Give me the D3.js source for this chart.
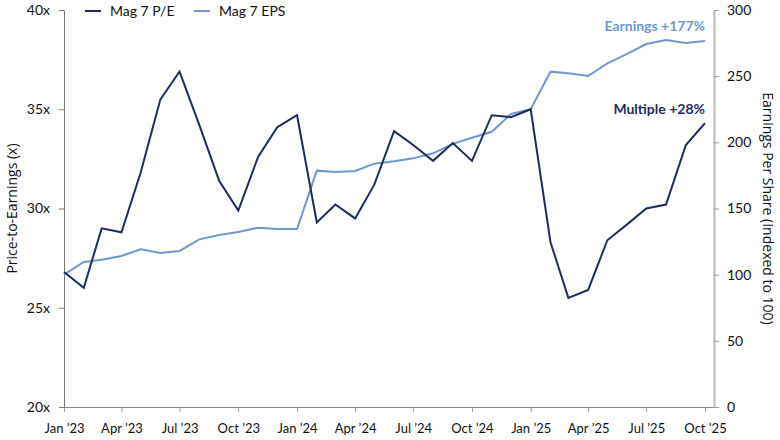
<!DOCTYPE html>
<html lang="en">
<head>
    <meta charset="UTF-8">
    <title>Mag 7 P/E vs EPS</title>
    <script src="https://cdnjs.cloudflare.com/ajax/libs/d3/7.8.5/d3.min.js"></script>
    <style>
        body { margin: 0; background: #fff; font-family: Lato, "Open Sans", sans-serif; }
        svg text { fill: #111; }
    </style>
</head>
<body>
    <div id="chart"></div>
    <script>
        // Monthly data, Jan 2023 .. Oct 2025
        const months = d3.range(34).map(i => new Date(2023, i, 1));
        const peValues = [
            26.8, 26.0, 29.0, 28.8, 31.8, 35.5, 36.9, 34.2, 31.4, 29.9, 32.6, 34.1,
            34.7, 29.3, 30.2, 29.5, 31.2, 33.9, 33.2, 32.4, 33.3, 32.4, 34.7, 34.6,
            35.0, 28.3, 25.5, 25.9, 28.4, 29.2, 30.0, 30.2, 33.2, 34.3
        ];
        const epsValues = [
            100, 109.6, 111.3, 114.1, 119.2, 116.4, 117.9, 126.7, 130, 132.2, 135.5, 134.5,
            134.5, 178.6, 177.6, 178.3, 183.9, 185.7, 187.9, 191.7, 198.8, 203.5, 208, 221.4,
            225, 253.4, 252.2, 250.1, 259.7, 266.8, 274.3, 277.3, 275.1, 276.5
        ];
        const leftTicks = [20, 25, 30, 35, 40];
        const rightTicks = [0, 50, 100, 150, 200, 250, 300];
        const xTickDates = d3.range(0, 34, 3).map(i => new Date(2023, i, 1));

        const width = 780, height = 440;
        const margin = { top: 10, right: 66, bottom: 33, left: 64 };
        const navy = "#1c2d5e", lightBlue = "#6e98cf";

        const svg = d3.select("#chart").append("svg")
            .attr("width", width).attr("height", height);

        const x = d3.scaleTime()
            .domain([months[0], months[months.length - 1]])
            .range([margin.left, 705]);
        const yL = d3.scaleLinear().domain([20, 40]).range([height - margin.bottom, margin.top]);
        const yR = d3.scaleLinear().domain([0, 300]).range([height - margin.bottom, margin.top]);
        const axisRightX = width - margin.right;

        const fmtMonth = d => d3.timeFormat("%b")(d) + " \u2019" + d3.timeFormat("%y")(d);

        // bottom axis
        const gx = svg.append("g")
            .attr("transform", `translate(0,${height - margin.bottom})`)
            .call(d3.axisBottom(x).tickValues(xTickDates).tickFormat(fmtMonth).tickSize(5).tickSizeOuter(0));
        gx.select(".domain").attr("stroke", "#888").attr("d", `M${margin.left},0.5H${axisRightX}`);
        gx.selectAll(".tick line").attr("stroke", "#999");
        gx.selectAll("text").attr("font-size", 13).attr("dy", "1.4em").attr("font-family", "Lato, sans-serif");

        // left axis
        const gl = svg.append("g")
            .attr("transform", `translate(${margin.left},0)`)
            .call(d3.axisLeft(yL).tickValues(leftTicks).tickFormat(d => d + "x").tickSize(5).tickSizeOuter(0));
        gl.select(".domain").attr("stroke", "#777");
        gl.selectAll(".tick line").attr("stroke", "#777");
        gl.selectAll("text").attr("font-size", 14).attr("x", -14).attr("font-family", "Lato, sans-serif");

        // right axis
        const gr = svg.append("g")
            .attr("transform", `translate(${axisRightX},0)`)
            .call(d3.axisRight(yR).tickValues(rightTicks).tickSize(5).tickSizeOuter(0));
        gr.select(".domain").attr("stroke", "#bbb").attr("stroke-width", 2);
        gr.selectAll(".tick line").attr("stroke", "#999");
        gr.selectAll("text").attr("font-size", 14).attr("x", 13).attr("font-family", "Lato, sans-serif");

        // axis titles
        const midY = (margin.top + height - margin.bottom) / 2;
        svg.append("text")
            .attr("transform", `translate(17,${midY}) rotate(-90)`)
            .attr("text-anchor", "middle")
            .attr("font-size", 14)
            .attr("font-family", "'Open Sans', sans-serif")
            .text("Price-to-Earnings (x)");
        svg.append("text")
            .attr("transform", `translate(763,${midY}) rotate(90)`)
            .attr("text-anchor", "middle")
            .attr("font-size", 14)
            .attr("font-family", "'Open Sans', sans-serif")
            .text("Earnings Per Share (Indexed to 100)");

        // lines
        const peLine = d3.line().x((d, i) => x(months[i])).y(d => yL(d));
        const epsLine = d3.line().x((d, i) => x(months[i])).y(d => yR(d));

        svg.append("path").datum(epsValues)
            .attr("fill", "none").attr("stroke", lightBlue).attr("stroke-width", 2)
            .attr("d", epsLine);
        svg.append("path").datum(peValues)
            .attr("fill", "none").attr("stroke", navy).attr("stroke-width", 2)
            .attr("d", peLine);

        // annotations
        svg.append("text")
            .attr("x", 705).attr("y", 31)
            .attr("text-anchor", "end")
            .attr("font-size", 14).attr("font-weight", "bold")
            .style("fill", lightBlue)
            .text("Earnings +177%");
        svg.append("text")
            .attr("x", 705).attr("y", 114)
            .attr("text-anchor", "end")
            .attr("font-size", 14).attr("font-weight", "bold")
            .style("fill", navy)
            .text("Multiple +28%");

        // legend
        const legend = [
            { label: "Mag 7 P/E", color: navy, x: 85 },
            { label: "Mag 7 EPS", color: lightBlue, x: 194 }
        ];
        const lg = svg.selectAll(".legend").data(legend).enter().append("g")
            .attr("class", "legend")
            .attr("transform", d => `translate(${d.x},11)`);
        lg.append("line").attr("x1", 0).attr("x2", 16).attr("y1", 0).attr("y2", 0)
            .attr("stroke", d => d.color).attr("stroke-width", 2);
        lg.append("text").attr("x", 25).attr("dy", "0.35em")
            .attr("font-size", 14).text(d => d.label);
    </script>
</body>
</html>
